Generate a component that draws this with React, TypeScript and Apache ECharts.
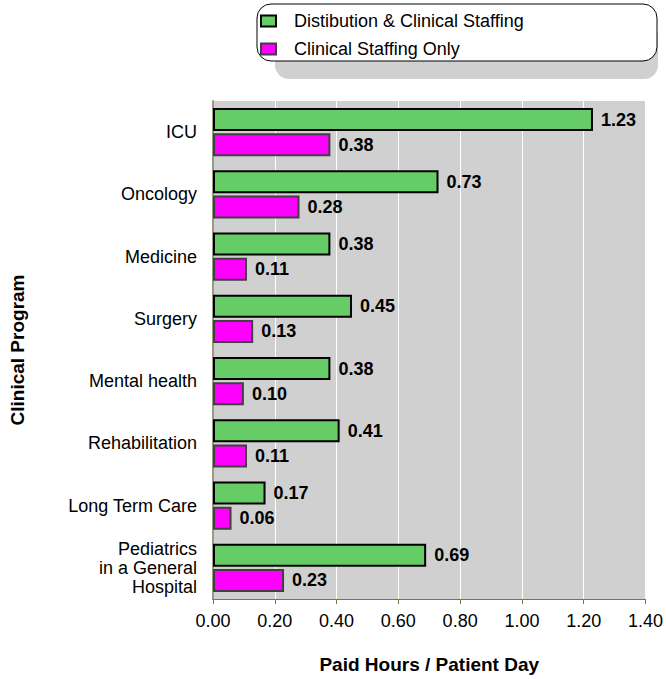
import React, { useEffect, useRef } from "react";
import * as echarts from "echarts";

const categories = [
  "ICU",
  "Oncology",
  "Medicine",
  "Surgery",
  "Mental health",
  "Rehabilitation",
  "Long Term Care",
  "Pediatrics\nin a General\nHospital",
];
const distributionAndClinical = [1.23, 0.73, 0.38, 0.45, 0.38, 0.41, 0.17, 0.69];
const clinicalOnly = [0.38, 0.28, 0.11, 0.13, 0.1, 0.11, 0.06, 0.23];
const seriesNames = ["Distibution & Clinical Staffing", "Clinical Staffing Only"];

const FONT = "'Liberation Sans', Arial, sans-serif";

export default function App() {
  const ref = useRef<HTMLDivElement>(null);
  useEffect(() => {
    document.body.style.margin = "0";
    if (!ref.current) return;
    const chart = echarts.init(ref.current, null, { renderer: "svg" });
    const labelStyle = {
      show: true,
      position: "right" as const,
      distance: 8,
      fontFamily: FONT,
      fontSize: 18,
      fontWeight: "bold" as const,
      color: "#000",
      formatter: (p: any) => Number(p.value).toFixed(2),
    };
    chart.setOption({
      animation: false,
      backgroundColor: "#fff",
      textStyle: { fontFamily: FONT },
      grid: {
        left: 210,
        right: 18,
        top: 101,
        bottom: 67,
        show: true,
        backgroundColor: "#D0D0D0",
        borderWidth: 0,
      },
      graphic: [
        {
          type: "rect",
          shape: { x: 275, y: 22, width: 383, height: 57, r: 14 },
          style: { fill: "#D0D0D0" },
          z: 1,
        },
        {
          type: "rect",
          shape: { x: 257, y: 4, width: 400, height: 57, r: 14 },
          style: { fill: "#fff", stroke: "#000", lineWidth: 1 },
          z: 2,
        },
      ],
      legend: {
        orient: "vertical",
        left: 255,
        top: 7,
        itemWidth: 15,
        itemHeight: 11,
        itemGap: 10,
        icon: "rect",
        z: 10,
        textStyle: {
          fontFamily: FONT,
          fontSize: 18,
          lineHeight: 18,
          color: "#000",
          padding: [0, 0, 0, 13],
        },
        data: seriesNames,
      },
      xAxis: {
        type: "value",
        min: 0,
        max: 1.4,
        interval: 0.2,
        name: "Paid Hours / Patient Day",
        nameLocation: "middle",
        nameGap: 56,
        nameTextStyle: { fontFamily: FONT, fontSize: 19, fontWeight: "bold", color: "#000" },
        axisLine: { show: true, lineStyle: { color: "#7A7A2A", width: 1 } },
        axisTick: { show: true, length: 5, lineStyle: { color: "#7A7A2A" } },
        axisLabel: {
          fontFamily: FONT,
          fontSize: 18,
          color: "#000",
          margin: 13,
          formatter: (v: number) => v.toFixed(2),
        },
        splitLine: { show: true, lineStyle: { color: "#fff", width: 1 } },
      },
      yAxis: {
        type: "category",
        inverse: true,
        data: categories,
        name: "Clinical Program",
        nameLocation: "middle",
        nameGap: 186,
        nameRotate: 90,
        nameTextStyle: { fontFamily: FONT, fontSize: 19, fontWeight: "bold", color: "#000" },
        axisLine: { show: true, lineStyle: { color: "#9A9A80", width: 2 } },
        axisTick: { show: false },
        axisLabel: {
          fontFamily: FONT,
          fontSize: 18,
          color: "#000",
          margin: 16,
          align: "right",
          lineHeight: 19,
        },
        splitLine: { show: false },
      },
      series: [
        {
          name: seriesNames[0],
          type: "bar",
          data: distributionAndClinical,
          barWidth: 23,
          barGap: "9%",
          itemStyle: { color: "#66CC66", borderColor: "#000", borderWidth: 2 },
          label: labelStyle,
          z: 3,
        },
        {
          name: seriesNames[1],
          type: "bar",
          data: clinicalOnly,
          barWidth: 23,
          itemStyle: { color: "#FF00FF", borderColor: "#404040", borderWidth: 2 },
          label: labelStyle,
          z: 3,
        },
      ],
    });
    return () => chart.dispose();
  }, []);
  return <div ref={ref} style={{ width: 666, height: 679 }} />;
}
